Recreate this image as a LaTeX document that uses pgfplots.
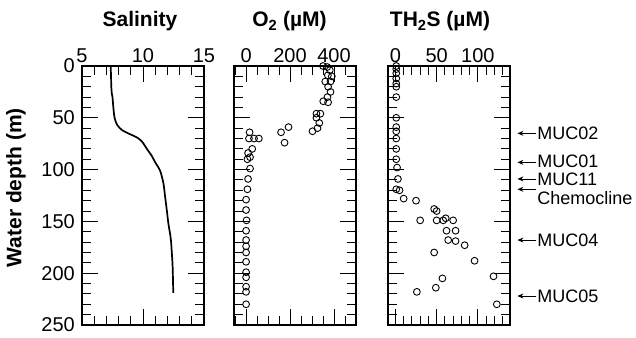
\documentclass[border=0pt]{standalone}
\usepackage{fontspec}
\setmainfont{Liberation Sans}
\usepackage{pgfplots}
\pgfplotsset{compat=1.18}
\usetikzlibrary{arrows.meta}

\pgfplotsset{
  panel/.style={
    scale only axis, width=122pt, height=259pt,
    y dir=reverse, ymin=0, ymax=250,
    ytick={0,50,...,250}, minor ytick={0,10,...,250},
    xtick pos=both, ytick pos=both,
    xticklabel pos=upper, yticklabel pos=lower,
    tick align=inside,
    major tick length=16pt, minor tick length=9pt,
    every major tick/.append style={black, line width=1pt},
    every minor tick/.append style={black, line width=1pt},
    axis line style={line width=1.2pt},
    tick label style={font=\fontsize{20}{20}\selectfont},
    /pgf/number format/assume math mode=true,
    xticklabel style={inner sep=0pt, yshift=3pt},
    yticklabel style={inner sep=0pt, xshift=-7pt},
    clip=false,
  },
  pts/.style={only marks, mark=o, mark size=3.4pt, mark options={line width=0.9pt, black}},
}
\newcommand{\ttl}{\fontsize{21}{21}\bfseries\selectfont}
\newcommand{\ann}{\fontsize{18}{18}\selectfont}

\begin{document}
\begin{tikzpicture}
\useasboundingbox (0,0) rectangle (636pt,337pt);

% Salinity
\begin{axis}[panel, at={(82pt,12pt)}, anchor=south west,
  xmin=5, xmax=15, xtick={5,10,15}, minor xtick={5,...,15}]
\addplot[black, line width=1.7pt, smooth] table {
x y
7.35 0
7.38 10
7.40 20
7.45 27
7.50 30
7.57 40
7.67 50
7.89 57
8.30 62
8.97 66
9.51 69
9.92 73
10.32 80
10.73 87
11.00 93
11.40 101
11.67 113
11.81 126
11.95 139
12.08 152
12.27 166
12.35 178
12.43 194
12.48 219
};
\node[font=\ttl, anchor=base, yshift=39pt] at (axis description cs:0.475,1) {Salinity};
\node[font=\ttl, rotate=90] at (axis description cs:-0.541,0.53) {Water depth (m)};
\end{axis}

% O2
\begin{axis}[panel, at={(234pt,12pt)}, anchor=south west,
  xmin=-55, xmax=500, xtick={0,200,400}, minor xtick={-50,0,50,...,450},
  yticklabels={}]
\addplot[pts] table {
x y
350 0
369 1
381 4
372 9
390 10
360 15
384 15
373 20
384 25
370 30
351 34
373 35
320 46
338 46
320 50
333 55
325 60
302 63
193 59
159 64
175 74
16 64
13 70
36 70
58 70
28 80
9 84
18 88
6 90
18 99
9 109
6 119
0 129
0 139
2 149
0 159
0 168
0 174
0 180
0 189
0 199
0 204
0 213
0 218
0 230
};
\node[font=\ttl, anchor=base, yshift=39pt] at (axis description cs:0.455,1) {O\textsubscript{2} (µM)};
\end{axis}

% TH2S
\begin{axis}[panel, at={(388pt,12pt)}, anchor=south west,
  xmin=-9, xmax=139, xtick={0,50,100}, minor xtick={0,10,...,130},
  yticklabels={}]
\addplot[pts] table {
x y
1 0
1 3
1 7
1 12
1 17
1 20
1 30
1 50
1 59
1 63
1 70
1 80
1 90
2 98
3 109
1 119
5 120
10 128
25 130
47 138
50 140
30 149
50 149
58 149
61 147
70 149
62 159
73 159
64 168
73 169
84 173
47 180
96 188
57 205
119 203
49 214
26 218
123 230
};
\node[font=\ttl, anchor=base, yshift=39pt] at (axis description cs:0.426,1) {TH\textsubscript{2}S (µM)};
\draw[-{Stealth[length=6pt,width=5pt]}, line width=0.8pt] (axis cs:171,65) -- (axis cs:148,65);
\node[anchor=west, inner sep=0pt, font=\ann] at (axis cs:172,65) {MUC02};
\draw[-{Stealth[length=6pt,width=5pt]}, line width=0.8pt] (axis cs:171,93) -- (axis cs:148,93);
\node[anchor=west, inner sep=0pt, font=\ann] at (axis cs:172,92) {MUC01};
\draw[-{Stealth[length=6pt,width=5pt]}, line width=0.8pt] (axis cs:171,109) -- (axis cs:148,109);
\node[anchor=west, inner sep=0pt, font=\ann] at (axis cs:172,109) {MUC11};
\draw[-{Stealth[length=6pt,width=5pt]}, line width=0.8pt] (axis cs:171,119) -- (axis cs:148,119);
\node[anchor=west, inner sep=0pt, font=\ann] at (axis cs:172,127.5) {Chemocline};
\draw[-{Stealth[length=6pt,width=5pt]}, line width=0.8pt] (axis cs:171,168) -- (axis cs:148,168);
\node[anchor=west, inner sep=0pt, font=\ann] at (axis cs:172,168) {MUC04};
\draw[-{Stealth[length=6pt,width=5pt]}, line width=0.8pt] (axis cs:171,222) -- (axis cs:148,222);
\node[anchor=west, inner sep=0pt, font=\ann] at (axis cs:172,222) {MUC05};
\end{axis}
\end{tikzpicture}
\end{document}
